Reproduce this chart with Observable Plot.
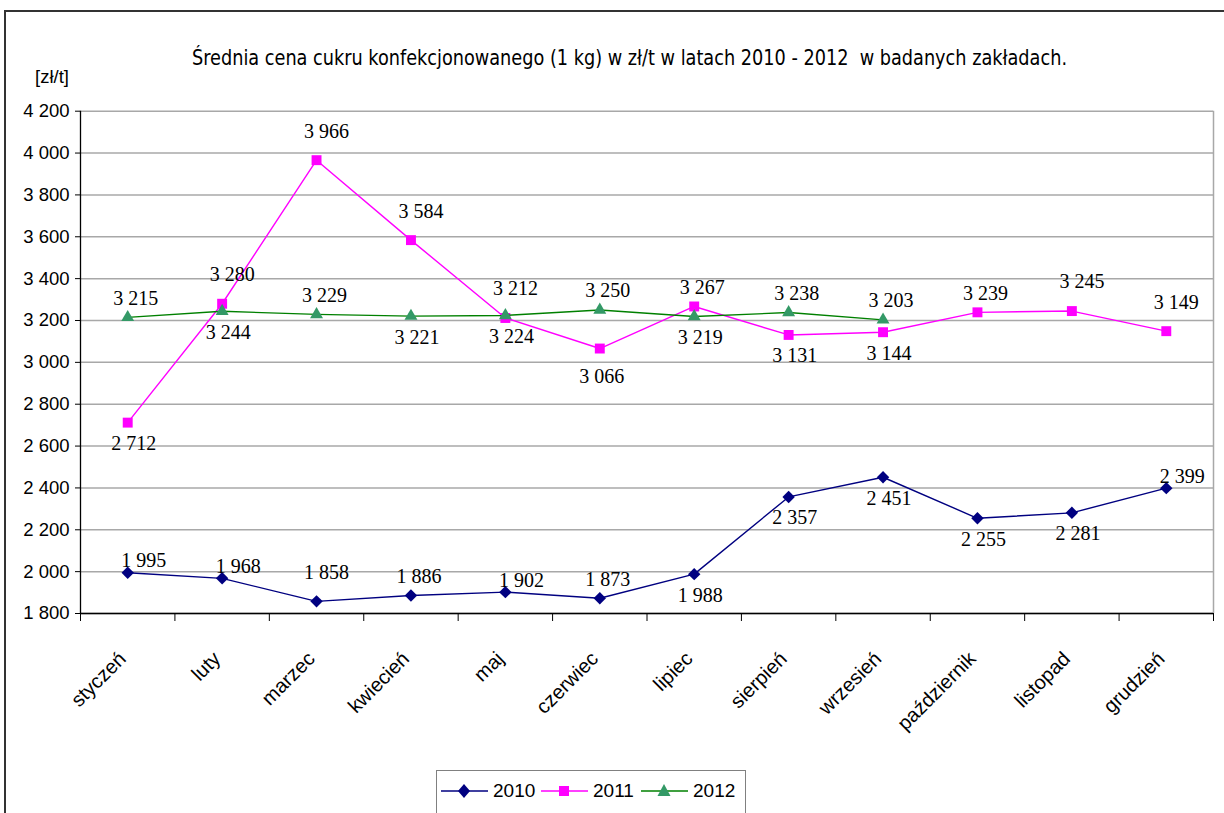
<!DOCTYPE html>
<html><head><meta charset="utf-8">
<script src="https://cdn.jsdelivr.net/npm/d3@7"></script>
<script src="https://cdn.jsdelivr.net/npm/@observablehq/plot@0.6"></script>
<style>
html,body{margin:0;padding:0;background:#fff;width:1224px;height:813px;overflow:hidden;}
#frame{position:absolute;left:4px;top:10px;width:1300px;height:900px;border-left:2px solid #333;border-top:2px solid #333;box-sizing:border-box;}
#title{position:absolute;left:192px;top:46px;font-family:"Liberation Sans Narrow","DejaVu Sans Condensed","Liberation Sans",sans-serif;font-size:21.5px;line-height:24px;white-space:pre;transform-origin:0 50%;color:#000;}
#unit{position:absolute;left:35px;top:66px;font-family:"Liberation Sans",Arial,sans-serif;font-size:18.5px;line-height:22px;color:#000;}
#chart{position:absolute;left:0;top:90px;}
#legend{position:absolute;left:436px;top:770px;width:310px;height:60px;border:1px solid #808080;box-sizing:border-box;background:#fff;font-family:"Liberation Sans",Arial,sans-serif;font-size:19px;}
.item{position:absolute;top:9px;height:22px;display:flex;align-items:center;}
.item span{margin-left:5px;}
</style></head><body>
<div id="frame"></div>
<div id="title"></div>
<div id="unit">[zł/t]</div>
<div id="chart"></div>
<div id="legend"></div>
<script>
// ---- data ----
const months = ["styczeń","luty","marzec","kwiecień","maj","czerwiec","lipiec","sierpień","wrzesień","październik","listopad","grudzień"];
const years = ["2010","2011","2012"];
const values2010 = [1995,1968,1858,1886,1902,1873,1988,2357,2451,2255,2281,2399];
const values2011 = [2712,3280,3966,3584,3212,3066,3267,3131,3144,3239,3245,3149];
const values2012 = [3215,3244,3229,3221,3224,3250,3219,3238,3203];
const yTicks = [1800,2000,2200,2400,2600,2800,3000,3200,3400,3600,3800,4000,4200];
// label placement codes (t = above, T = higher above, b = below, B = lower below, tr = above right)
const place2010 = ["tr","tr","T","t","tr","t","b","b","b","b","b","tr"];
const place2011 = ["b","T","T","T","T","B","t","b","b","t","T","T"];
const place2012 = ["t","b","t","b","b","t","b","t","t"];
const titleText = "Średnia cena cukru konfekcjonowanego (1 kg) w zł/t w latach 2010 - 2012  w badanych zakładach.";
const unitText = "[zł/t]";

// ---- styles ----
const colors = {"2010": {line:"#000080", fill:"#000080", symbol:"diamond2", r:5.6},
                "2011": {line:"#FF00FF", fill:"#FF00FF", symbol:"square", r:5.6},
                "2012": {line:"#008000", fill:"#339966", symbol:"triangle", r:4.8}};
const offsets = {t:{dx:8,dy:-19}, T:{dx:10,dy:-29}, b:{dx:6,dy:21}, B:{dx:2,dy:28}, tr:{dx:16,dy:-12}};

const fmt = d3.formatLocale({decimal:",", thousands:" ", grouping:[3], currency:["",""]}).format(",d");

function rows(year, vals, places) {
  return vals.map((v, i) => ({year, i, x: i + 0.5, v, pos: places[i]}));
}
const series = [rows("2010", values2010, place2010), rows("2011", values2011, place2011), rows("2012", values2012, place2012)];

document.getElementById("title").textContent = titleText;
document.getElementById("unit").textContent = unitText;

const marks = [
  Plot.ruleY(yTicks, {stroke:"#a8a8a8", strokeWidth:1.5}),
  Plot.ruleX([12], {stroke:"#a8a8a8", strokeWidth:1.5}),
  Plot.axisY({ticks: yTicks, tickFormat: fmt, tickSize:5, tickPadding:6, fontSize:18.5, fontFamily:"Liberation Sans, Arial, sans-serif", label:null, stroke:"#000"}),
  Plot.axisX({ticks: d3.range(0, 13), tickFormat: () => "", tickSize:8, label:null, stroke:"#000"}),
  Plot.axisX({ticks: months.map((m, i) => i + 0.5), tickFormat: v => months[Math.floor(v)], tickSize:0, tickPadding:42, dx:-5, tickRotate:-45, fontSize:20, fontFamily:"Liberation Sans, Arial, sans-serif", label:null}),
  Plot.ruleY([1800], {stroke:"#000", strokeWidth:1.3}),
  Plot.ruleX([0], {stroke:"#000", strokeWidth:1.3})
];
for (const s of series) {
  const c = colors[s[0].year];
  marks.push(Plot.line(s, {x:"x", y:"v", stroke:c.line, strokeWidth:1.4}));
  marks.push(Plot.dot(s, {x:"x", y:"v", symbol:() => c.symbol, fill:c.fill, stroke:"none", r:c.r}));
}
for (const s of series) {
  for (const code of Object.keys(offsets)) {
    const sub = s.filter(d => d.pos === code);
    if (!sub.length) continue;
    marks.push(Plot.text(sub, {x:"x", y:"v", text: d => fmt(d.v), dx:offsets[code].dx, dy:offsets[code].dy,
      fontFamily:"Liberation Serif, Times New Roman, serif", fontSize:20, fill:"#000"}));
  }
}

const chart = Plot.plot({
  width: 1224, height: 660,
  marginLeft: 80, marginRight: 11, marginTop: 20.7, marginBottom: 137,
  x: {type:"linear", domain:[0, 12]},
  y: {domain:[1800, 4200]},
  symbol: {type:"identity"},
  style: {background:"transparent", color:"#000", overflow:"visible"},
  marks
});
document.getElementById("chart").appendChild(chart);

// title fit to width
const t = document.getElementById("title");
const w = t.getBoundingClientRect().width;
t.style.transform = `scaleX(${875 / w})`;

// legend
const legend = document.getElementById("legend");
const lx = [4, 104, 204];
years.forEach((y, k) => {
  const c = colors[y];
  const div = document.createElement("div");
  div.className = "item";
  div.style.left = lx[k] + "px";
  let mark;
  if (y === "2010") mark = `<path d="M23,4 L29,11 L23,18 L17,11 Z" fill="${c.fill}"/>`;
  else if (y === "2011") mark = `<rect x="18" y="6" width="10" height="10" fill="${c.fill}"/>`;
  else mark = `<path d="M23,4 L29.5,16 L16.5,16 Z" fill="${c.fill}"/>`;
  div.innerHTML = `<svg width="47" height="22"><line x1="0" y1="11" x2="47" y2="11" stroke="${c.line}" stroke-width="1.4"/>${mark}</svg><span>${y}</span>`;
  legend.appendChild(div);
});
</script>
</body></html>
